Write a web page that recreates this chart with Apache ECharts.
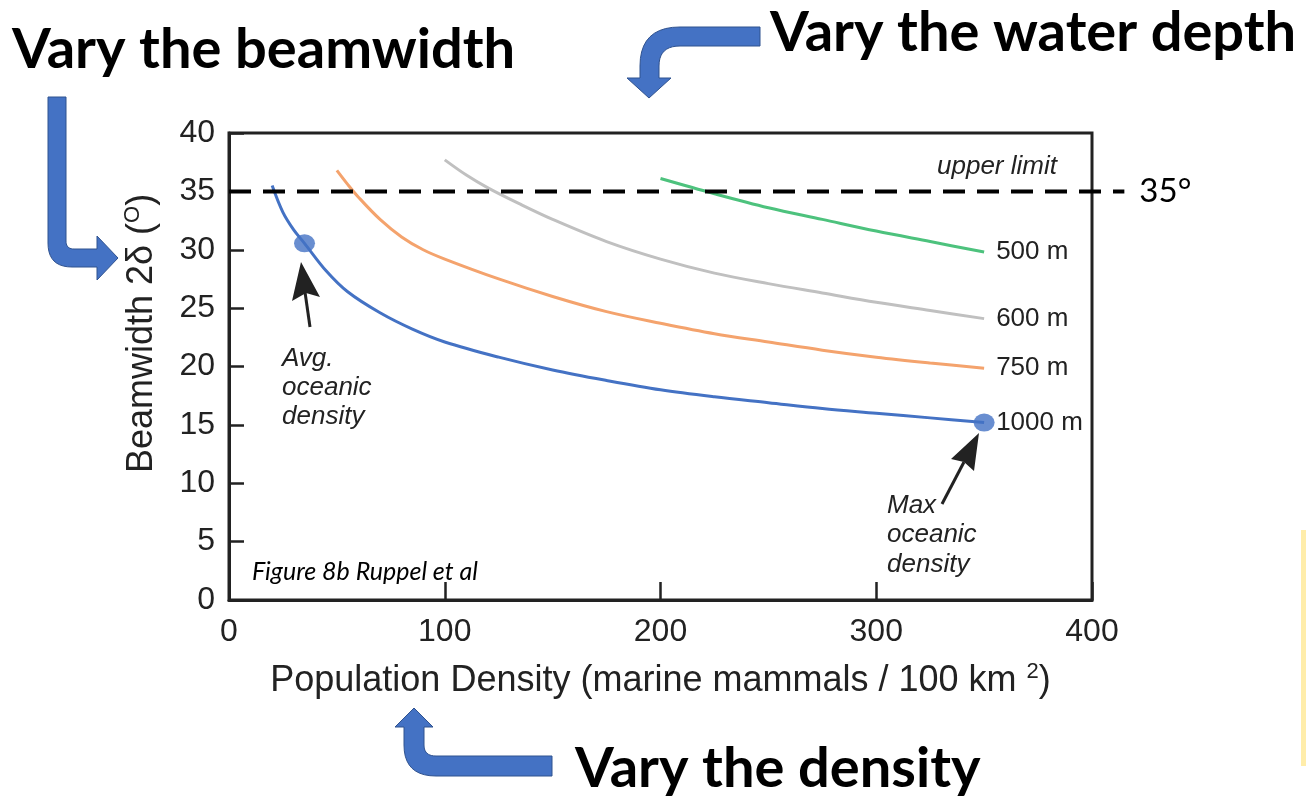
<!DOCTYPE html>
<html>
<head>
<meta charset="utf-8">
<script src="https://cdn.jsdelivr.net/npm/echarts@6/dist/echarts.min.js"></script>
<style>
  html, body { margin: 0; padding: 0; background: #ffffff; }
  #chart { width: 1306px; height: 797px; }
</style>
</head>
<body>
<div id="chart"></div>
<script>
// Beamwidth (deg) needed at each population density, one curve per water depth
const depthLabels = ['1000 m', '750 m', '600 m', '500 m'];

const density1000 = [20, 25, 30, 35, 45, 55, 70, 85, 100, 125, 150, 175, 200, 225, 250, 275, 300, 325, 350];
const beam1000    = [35.5, 33.2, 31.7, 30.55, 28.2, 26.4, 24.6, 23.2, 22.1, 20.8, 19.7, 18.8, 18.0, 17.4, 16.9, 16.4, 16.0, 15.6, 15.2];

const density750  = [50, 55, 60, 70, 80, 90, 100, 125, 150, 175, 200, 225, 250, 275, 300, 325, 350];
const beam750     = [36.8, 35.6, 34.5, 32.6, 31.1, 30.0, 29.2, 27.5, 26.0, 24.7, 23.7, 22.8, 22.1, 21.4, 20.8, 20.3, 19.85];

const density600  = [100, 110, 120, 135, 150, 175, 200, 225, 250, 275, 300, 325, 350];
const beam600     = [37.7, 36.4, 35.3, 33.9, 32.6, 30.7, 29.2, 28.0, 27.1, 26.3, 25.5, 24.8, 24.1];

const density500  = [200, 225, 250, 275, 300, 325, 350];
const beam500     = [36.1, 34.8, 33.6, 32.6, 31.6, 30.7, 29.8];

// Upper beamwidth limit and the two highlighted densities
const limitBeam = 35;
const limitSpan = [0, 415];
const avgOceanic = [35, 30.55];
const maxOceanic = [350, 15.2];

// Axis ranges
const xRange = { min: 0, max: 400, interval: 100 };
const yRange = { min: 0, max: 40, interval: 5 };

const curveColors = ['#4472C4', '#F4A36D', '#C0C0C0', '#4DC27D'];
const ink = '#222222';
const sans = 'Liberation Sans, Arial, sans-serif';

// Plot box in pixels
const W = 1306, H = 797;
const box = { left: 229, right: 214, top: 133, bottom: 197 };
const pxPerUnit = (W - box.left - box.right) / (xRange.max - xRange.min);

const pairs = (xs, ys) => xs.map((x, i) => [x, ys[i]]);
const curves = [
  pairs(density1000, beam1000),
  pairs(density750, beam750),
  pairs(density600, beam600),
  pairs(density500, beam500)
];

// Outline builder for the bent block arrows: straight points plus rounded corners
function outline(parts) {
  const pts = [];
  parts.forEach(p => {
    if (p.length === 3) {
      const [a, c, b] = p;
      for (let k = 0; k <= 10; k++) {
        const t = k / 10, u = 1 - t;
        pts.push([u * u * a[0] + 2 * u * t * c[0] + t * t * b[0],
                  u * u * a[1] + 2 * u * t * c[1] + t * t * b[1]]);
      }
    } else {
      pts.push(p[0]);
    }
  });
  return pts;
}

const arrowStyle = { fill: '#4472C4', stroke: '#2F528F', lineWidth: 1 };

const beamArrow = outline([
  [[48, 97]], [[66, 97]],
  [[66, 241], [66, 249], [74, 249]],
  [[97, 249]], [[97, 236]], [[118, 258]], [[97, 280]], [[97, 267]],
  [[72, 267], [48, 267], [48, 243]]
]);
const depthArrow = outline([
  [[760, 27]], [[760, 46]],
  [[680, 46], [659, 46], [659, 66]],
  [[659, 78]], [[671, 78]], [[649, 98]], [[627, 78]], [[640, 78]],
  [[640, 66], [640, 27], [680, 27]]
]);
const densityArrow = outline([
  [[414, 708]], [[433, 727]], [[424, 727]],
  [[424, 745], [424, 756], [436, 756]],
  [[552, 756]], [[552, 776]],
  [[436, 776], [404, 776], [404, 745]],
  [[404, 727]], [[395, 727]]
]);

const chart = echarts.init(document.getElementById('chart'), null, { renderer: 'canvas' });

const curveSeries = curves.map((data, i) => ({
  name: depthLabels[i],
  type: 'line',
  data: data,
  smooth: 0.35,
  showSymbol: false,
  lineStyle: { color: curveColors[i], width: 3 },
  endLabel: {
    show: true,
    formatter: depthLabels[i],
    distance: 12,
    color: ink,
    fontFamily: sans,
    fontSize: 26
  },
  z: 3
}));

const nameRich = {
  n: { fontFamily: sans, fontSize: 36, color: ink, lineHeight: 40 },
  s: { fontFamily: sans, fontSize: 22, color: ink, verticalAlign: 'top', lineHeight: 40 }
};

const option = {
  animation: false,
  backgroundColor: '#ffffff',
  grid: [
    { left: box.left, right: box.right, top: box.top, bottom: box.bottom,
      show: true, borderColor: ink, borderWidth: 3 },
    // wider twin of the plot box so the limit line can run past the frame
    { left: box.left, right: W - box.left - limitSpan[1] * pxPerUnit, top: box.top, bottom: box.bottom,
      show: false }
  ],
  xAxis: [{
    type: 'value',
    min: xRange.min, max: xRange.max, interval: xRange.interval,
    name: '{n|Population Density (marine mammals / 100 km }{s|2}{n|)}',
    nameLocation: 'middle',
    nameGap: 61,
    nameTextStyle: { rich: nameRich },
    axisLine: { show: true, lineStyle: { color: ink, width: 3 } },
    axisTick: { show: true, inside: true, length: 18, lineStyle: { color: ink, width: 2.5 } },
    axisLabel: { fontFamily: sans, fontSize: 32, color: ink, margin: 16 },
    splitLine: { show: false }
  }, {
    gridIndex: 1, type: 'value', min: limitSpan[0], max: limitSpan[1], show: false
  }],
  yAxis: [{
    type: 'value',
    min: yRange.min, max: yRange.max, interval: yRange.interval,
    name: '{n|Beamwidth 2δ (}{s|O}{n|)}',
    nameLocation: 'middle',
    nameGap: 67,
    nameTextStyle: { padding: [0, 0, 0, 66], rich: nameRich },
    axisLine: { show: true, lineStyle: { color: ink, width: 3 } },
    axisTick: { show: true, inside: true, length: 15, lineStyle: { color: ink, width: 2.5 } },
    axisLabel: { fontFamily: sans, fontSize: 32, color: ink, margin: 14 },
    splitLine: { show: false }
  }, {
    gridIndex: 1, type: 'value', min: yRange.min, max: yRange.max, show: false
  }],
  series: [
    ...curveSeries,
    {
      name: 'upper limit',
      type: 'line',
      xAxisIndex: 1,
      yAxisIndex: 1,
      data: [[limitSpan[0], limitBeam], [limitSpan[1], limitBeam]],
      showSymbol: false,
      lineStyle: { color: '#000000', width: 4, type: [22, 12] },
      endLabel: {
        show: true,
        formatter: limitBeam + '°',
        distance: 15,
        color: '#000000',
        fontFamily: 'Lato, sans-serif',
        fontSize: 33
      },
      z: 4
    },
    {
      name: 'oceanic density',
      type: 'scatter',
      data: [avgOceanic, maxOceanic],
      symbol: 'circle',
      symbolSize: [21, 18],
      itemStyle: { color: '#4472C4' },
      z: 5
    }
  ],
  graphic: [
    // headings
    { type: 'text', x: 12, y: 22, style: { text: 'Vary the beamwidth', fill: '#000', font: 'bold 56px Lato, sans-serif' } },
    { type: 'text', x: 770, y: 5, style: { text: 'Vary the water depth', fill: '#000', font: 'bold 56px Lato, sans-serif' } },
    { type: 'text', x: 575, y: 741, style: { text: 'Vary the density', fill: '#000', font: 'bold 56px Lato, sans-serif' } },

    // block arrows
    { type: 'polygon', shape: { points: beamArrow }, style: arrowStyle },
    { type: 'polygon', shape: { points: depthArrow }, style: arrowStyle },
    { type: 'polygon', shape: { points: densityArrow }, style: arrowStyle },

    // pointer arrows
    { type: 'line', shape: { x1: 310, y1: 327, x2: 305, y2: 292 }, style: { stroke: ink, lineWidth: 3 } },
    { type: 'polygon', shape: { points: [[301, 262], [320, 297], [306, 293], [292, 301]] }, style: { fill: ink } },
    { type: 'line', shape: { x1: 942, y1: 504, x2: 964, y2: 462 }, style: { stroke: ink, lineWidth: 3 } },
    { type: 'polygon', shape: { points: [[979, 433], [974, 471], [964, 462], [951, 459]] }, style: { fill: ink } },

    // annotations
    { type: 'text', x: 282, y: 344, style: { text: 'Avg.\noceanic\ndensity', fill: ink, font: 'italic 26px Liberation Sans, Arial, sans-serif', lineHeight: 29 } },
    { type: 'text', x: 887, y: 491, style: { text: 'Max\noceanic\ndensity', fill: ink, font: 'italic 26px Liberation Sans, Arial, sans-serif', lineHeight: 29.5 } },
    { type: 'text', x: 937, y: 154, style: { text: 'upper limit', fill: ink, font: 'italic 26px Liberation Sans, Arial, sans-serif' } },
    { type: 'text', x: 252, y: 559, style: { text: 'Figure 8b Ruppel et al', fill: '#000', font: 'italic 25px Lato, sans-serif' } },

    // slide edge strip
    { type: 'rect', shape: { x: 1301, y: 530, width: 5, height: 236 }, style: { fill: '#FFEDAA' } }
  ]
};

chart.setOption(option);
</script>
</body>
</html>
